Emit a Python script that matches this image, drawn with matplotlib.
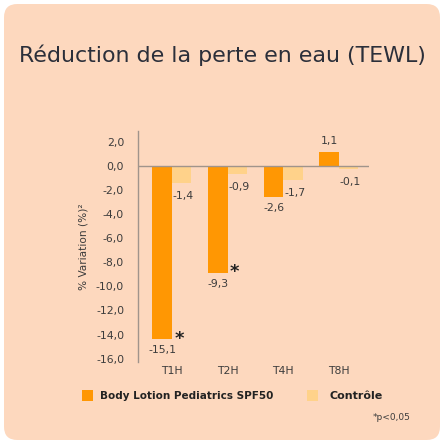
import numpy as np
import matplotlib
matplotlib.use('Agg')
import matplotlib.pyplot as plt
from matplotlib.patches import FancyBboxPatch, Rectangle

# data
times = ['T1H', 'T2H', 'T4H', 'T8H']
prod = [-14.4, -8.9, -2.6, 1.15]        # bar heights as drawn
ctrl = [-1.4, -0.67, -1.2, -0.3]
prod_lbl = ['-15,1', '-9,3', '-2,6', '1,1']
ctrl_lbl = ['-1,4', '-0,9', '-1,7', '-0,1']
signif = [True, True, False, False]
yticks = np.arange(-16, 3, 2)
names = ['Body Lotion Pediatrics SPF50', 'Contrôle']

c_prod = '#FF9703'
c_ctrl = '#FFD28A'
bg = '#FDD8BE'
txt = '#3C3C3C'
plt.rcParams['font.family'] = 'DejaVu Sans'

fig = plt.figure(figsize=(4.44, 4.44), dpi=100)
fig.patch.set_facecolor('white')
card = FancyBboxPatch((4 / 444, 4 / 444), 436 / 444, 436 / 444,
                      boxstyle='round,pad=0,rounding_size=0.03',
                      transform=fig.transFigure, fc=bg, ec='none', zorder=-10)
fig.patches.append(card)

fig.text(0.5, 1 - 55 / 444, 'Réduction de la perte en eau (TEWL)',
         ha='center', va='center', fontsize=15.9, color='#2B2F3A')

ax = fig.add_axes([138 / 444, 1 - 362 / 444, 231 / 444, 231 / 444])
ax.set_facecolor('none')
x = np.arange(len(times))
w = 0.35
ax.bar(x - w / 2, prod, w, color=c_prod, zorder=2)
ax.bar(x + w / 2, ctrl, w, color=c_ctrl, zorder=2)
ax.axhline(0, color='#A0948B', lw=1, zorder=3)

for i in range(len(times)):
    off = 11 / 12
    if prod[i] < 0:
        ax.text(x[i] - w / 2, prod[i] - off, prod_lbl[i], ha='center', va='center',
                fontsize=7.8, color=txt)
    else:
        ax.text(x[i] - w / 2, prod[i] + off, prod_lbl[i], ha='center', va='center',
                fontsize=7.8, color=txt)
    ax.text(x[i] + w / 2 + 0.03, ctrl[i] - 13 / 12, ctrl_lbl[i], ha='center', va='center',
            fontsize=7.8, color=txt)
    if signif[i]:
        ax.text(x[i] + 0.13, prod[i] + 0.05, '*', ha='center', va='center',
                fontsize=13, fontweight='bold', color='#222222')

ax.set_xlim(-0.61, 3.54)
ax.set_ylim(-16.28, 2.88)
ax.set_yticks(yticks)
ax.set_yticklabels(['{:.1f}'.format(v).replace('.', ',') for v in yticks])
ax.set_xticks(x)
ax.set_xticklabels(times)
ax.tick_params(axis='both', length=0, labelsize=7.8, colors=txt)
ax.tick_params(axis='y', pad=10)
ax.tick_params(axis='x', pad=3)
for s in ['top', 'right', 'bottom']:
    ax.spines[s].set_visible(False)
ax.spines['left'].set_color('#A0948B')
ax.spines['left'].set_linewidth(1)
ax.set_ylabel('% Variation (%)²', fontsize=7.6, color=txt, labelpad=5)

# legend
fig.patches.append(Rectangle((82 / 444, 1 - 401 / 444), 11 / 444, 11 / 444,
                             transform=fig.transFigure, fc=c_prod, ec='none'))
fig.text(100 / 444, 1 - 396 / 444, names[0], ha='left', va='center',
         fontsize=7.5, fontweight='bold', color='#222222')
fig.patches.append(Rectangle((307 / 444, 1 - 401 / 444), 11 / 444, 11 / 444,
                             transform=fig.transFigure, fc=c_ctrl, ec='none'))
fig.text(329 / 444, 1 - 396 / 444, names[1], ha='left', va='center',
         fontsize=8, fontweight='bold', color='#222222')
fig.text(411 / 444, 1 - 417 / 444, '*p<0,05', ha='right', va='center',
         fontsize=6.5, color=txt)

fig.savefig('out.png', dpi=100, facecolor='white')
